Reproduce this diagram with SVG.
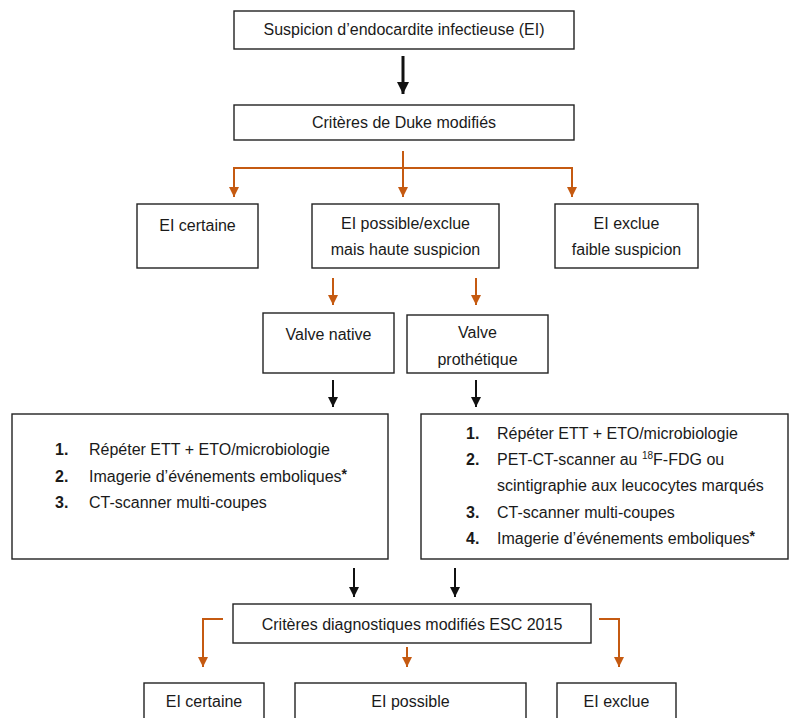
<svg xmlns="http://www.w3.org/2000/svg" width="790" height="718" viewBox="0 0 790 718">
<style>
.box{fill:#fff;stroke:#222;stroke-width:1.4}
text{font-family:"Liberation Sans",Arial,sans-serif;font-size:16px;fill:#1a1a1a}
.c{text-anchor:middle}
.n{font-weight:bold}
.or{fill:none;stroke:#c55a11;stroke-width:2}
.bk{fill:none;stroke:#111;stroke-width:2}
.bk3{fill:none;stroke:#111;stroke-width:3}
</style>
<defs>
<marker id="ao" markerUnits="userSpaceOnUse" markerWidth="12" markerHeight="12" refX="10" refY="5" orient="auto"><path d="M0,0 L10,5 L0,10 Z" fill="#c55a11"/></marker>
<marker id="ab" markerUnits="userSpaceOnUse" markerWidth="12" markerHeight="12" refX="10" refY="5" orient="auto"><path d="M0,0 L10,5 L0,10 Z" fill="#111"/></marker>
<marker id="ab3" markerUnits="userSpaceOnUse" markerWidth="14" markerHeight="14" refX="12" refY="6" orient="auto"><path d="M0,0 L12,6 L0,12 Z" fill="#111"/></marker>
</defs>
<g id="connectors">
<path class="bk3" d="M403,56 V94" marker-end="url(#ab3)"/>
<path class="or" d="M403,151 V197" marker-end="url(#ao)"/>
<path class="or" d="M234,197 V168 H572 V197" marker-end="url(#ao)"/>
<path class="or" d="M234,168 V197" marker-end="url(#ao)"/>
<path class="or" d="M333,278 V305" marker-end="url(#ao)"/>
<path class="or" d="M476,278 V305" marker-end="url(#ao)"/>
<path class="bk" d="M333,380 V407" marker-end="url(#ab)"/>
<path class="bk" d="M476,380 V407" marker-end="url(#ab)"/>
<path class="bk" d="M354,568 V597" marker-end="url(#ab)"/>
<path class="bk" d="M455,568 V597" marker-end="url(#ab)"/>
<path class="or" d="M223,619 H203 V667" marker-end="url(#ao)"/>
<path class="or" d="M599,619 H619 V667" marker-end="url(#ao)"/>
<path class="or" d="M407,647 V667" marker-end="url(#ao)"/>
</g>
<g id="suspicion"><rect class="box" x="234" y="11" width="340" height="38"/><text class="c" x="404" y="35">Suspicion d’endocardite infectieuse (EI)</text></g>
<g id="duke"><rect class="box" x="234" y="105" width="340" height="35"/><text class="c" x="404" y="128">Critères de Duke modifiés</text></g>
<g id="ei-certaine-1"><rect class="box" x="137" y="204" width="121" height="64"/><text class="c" x="197.5" y="231">EI certaine</text></g>
<g id="ei-possible-1"><rect class="box" x="312" y="204" width="187" height="64"/><text class="c" x="405.5" y="229">EI possible/exclue</text><text class="c" x="405.5" y="255">mais haute suspicion</text></g>
<g id="ei-exclue-1"><rect class="box" x="555" y="204" width="143" height="64"/><text class="c" x="626.5" y="229">EI exclue</text><text class="c" x="626.5" y="255">faible suspicion</text></g>
<g id="valve-native"><rect class="box" x="263" y="313" width="131" height="60"/><text class="c" x="328.5" y="340">Valve native</text></g>
<g id="valve-prothetique"><rect class="box" x="407" y="315" width="141" height="58"/><text class="c" x="477.5" y="338">Valve</text><text class="c" x="477.5" y="365">prothétique</text></g>
<g id="list-native"><rect class="box" x="12" y="414" width="376" height="145"/>
<text class="n" x="55" y="455">1.</text><text x="89" y="455">Répéter ETT + ETO/microbiologie</text>
<text class="n" x="55" y="482">2.</text><text x="89" y="482">Imagerie d’événements emboliques<tspan class="n" font-size="14" dy="-3">*</tspan></text>
<text class="n" x="55" y="508">3.</text><text x="89" y="508">CT-scanner multi-coupes</text>
</g>
<g id="list-prothetique"><rect class="box" x="421" y="414" width="367" height="145"/>
<text class="n" x="466" y="439">1.</text><text x="497" y="439">Répéter ETT + ETO/microbiologie</text>
<text class="n" x="466" y="465">2.</text><text x="497" y="465">PET-CT-scanner au <tspan font-size="10" dy="-6">18</tspan><tspan dy="6">F-FDG ou</tspan></text>
<text x="497" y="491">scintigraphie aux leucocytes marqués</text>
<text class="n" x="466" y="518">3.</text><text x="497" y="518">CT-scanner multi-coupes</text>
<text class="n" x="466" y="544">4.</text><text x="497" y="544">Imagerie d’événements emboliques<tspan class="n" font-size="14" dy="-3">*</tspan></text>
</g>
<g id="esc"><rect class="box" x="233" y="604" width="358" height="39"/><text class="c" x="412" y="630">Critères diagnostiques modifiés ESC 2015</text></g>
<g id="ei-certaine-2"><rect class="box" x="144" y="683" width="120" height="45"/><text class="c" x="204" y="707">EI certaine</text></g>
<g id="ei-possible-2"><rect class="box" x="295" y="683" width="231" height="45"/><text class="c" x="410.5" y="707">EI possible</text></g>
<g id="ei-exclue-2"><rect class="box" x="557" y="683" width="119" height="45"/><text class="c" x="616.5" y="707">EI exclue</text></g>
</svg>
